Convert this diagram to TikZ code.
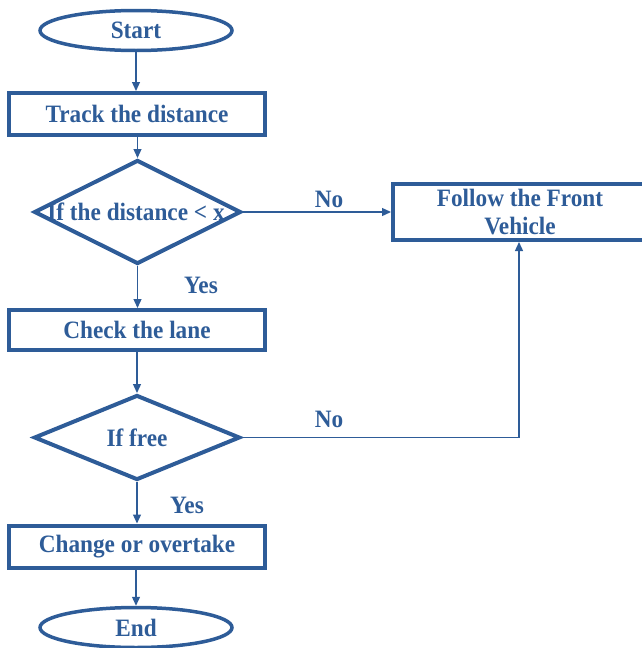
\documentclass[tikz,border=0pt]{standalone}
\usepackage{fontspec}
\setmainfont[FakeStretch=0.93]{Liberation Serif}
\usetikzlibrary{shapes.geometric,arrows.meta}
\definecolor{fblue}{RGB}{46,92,152}
\tikzset{
  every node/.style={font=\bfseries\fontsize{25}{28}\selectfont, text=fblue},
  termbox/.style={ellipse, draw=fblue, line width=3.5pt, minimum width=192pt, minimum height=40pt, inner sep=0pt},
  procbox/.style={rectangle, draw=fblue, line width=4pt, minimum width=256pt, inner sep=0pt},
  decbox/.style={diamond, draw=fblue, line width=4pt, inner sep=0pt},
  lbl/.style={inner sep=0pt},
  conn/.style={draw=fblue, line width=1.3pt, -{Triangle[length=9pt,width=8pt]}},
}
\begin{document}
\begin{tikzpicture}[x=1pt,y=-1pt]
\useasboundingbox (0,0) rectangle (642,648);
\clip (0,0) rectangle (642,648);
\node[termbox] (start) at (136,30.5) {Start};
\node[procbox, minimum height=42pt] (track) at (137,114) {Track the distance};
\node[decbox, minimum width=207pt, minimum height=104pt] (d1) at (137.5,212) {};
\node[lbl] (d1t) at (136,212) {If the distance < x};
\node[procbox, minimum width=262pt, minimum height=56pt, align=center] (follow) at (524,212) {};
\node[lbl, align=center] (followt) at (520,212) {Follow the Front\\Vehicle};
\node[procbox, minimum height=40pt] (check) at (137,330) {Check the lane};
\node[decbox, minimum width=206pt, minimum height=85pt] (d2) at (137,437.5) {};
\node[lbl] (d2t) at (137,437.5) {If free};
\node[procbox, minimum height=42pt] (change) at (137,546.5) {Change or overtake};
\node[termbox] (end) at (136,627.5) {End};
\coordinate (corner) at (519,437.5);
\draw[conn] (start) -- (track.north -| start);
\draw[conn] (track.south -| d1.north) -- (d1.north);
\draw[conn] (d1.east) -- (follow.west |- d1.east);
\draw[conn] (d1.south) -- (check.north -| d1.south);
\draw[conn] (check.south -| d2.north) -- (d2.north);
\draw[conn] (d2.east) -- (corner) -- (corner |- follow.south);
\draw[conn] (d2.south) -- (change.north -| d2.south);
\draw[conn] (change.south -| end.north) -- (end.north);
\node[lbl] (no1) at (329,199) {No};
\node[lbl] (yes1) at (201,285) {Yes};
\node[lbl] (no2) at (329,419) {No};
\node[lbl] (yes2) at (187,505) {Yes};
\end{tikzpicture}
\end{document}
